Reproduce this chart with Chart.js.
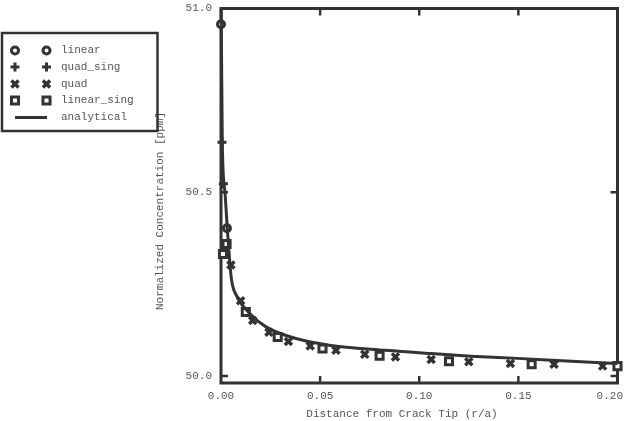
<!DOCTYPE html>
<html><head><meta charset="utf-8">
<script src="https://cdn.jsdelivr.net/npm/chart.js@4/dist/chart.umd.min.js"></script>
<style>html,body{margin:0;padding:0;background:#fff;}#wrap{width:626px;height:421px;}</style>
</head><body><div id="wrap"><canvas id="c" width="626" height="421"></canvas></div>
<script>
// ---- data ----
const xTicks = [0.00, 0.05, 0.10, 0.15, 0.20];
const yTicks = [50.0, 50.5, 51.0];
const xTitle = 'Distance from Crack Tip (r/a)';
const yTitle = 'Normalized Concentration [ppm]';
const seriesNames = ['linear', 'quad_sing', 'quad', 'linear_sing', 'analytical'];

const linearR = [0.0, 0.003];
const linearC = [50.957, 50.402];

const quadSingR = [0.0005, 0.0012];
const quadSingC = [50.636, 50.523];

const quadR = [0.005, 0.0099, 0.016, 0.0242, 0.034, 0.045, 0.058, 0.0725, 0.088, 0.106, 0.125, 0.146, 0.168, 0.1925];
const quadC = [50.302, 50.205, 50.151, 50.119, 50.094, 50.082, 50.070, 50.059, 50.052, 50.045, 50.039, 50.034, 50.032, 50.027];

const linearSingR = [0.001, 0.0028, 0.0125, 0.0286, 0.0512, 0.080, 0.115, 0.1567, 0.200];
const linearSingC = [50.332, 50.359, 50.174, 50.106, 50.075, 50.055, 50.040, 50.032, 50.027];

const analyticalR = [0.0001, 0.00065, 0.002, 0.00315, 0.0045, 0.00535, 0.0079, 0.0145, 0.0229, 0.0379, 0.0545, 0.0829, 0.106, 0.126, 0.1495, 0.1745, 0.200];
const analyticalC = [51.0, 50.636, 50.50, 50.404, 50.305, 50.26, 50.218, 50.17, 50.133, 50.102, 50.084, 50.070, 50.061, 50.054, 50.048, 50.041, 50.034];

// ---- build ----
const pts = (rs, cs) => rs.map((r, i) => ({x: r, y: cs[i]}));
const INK = '#333333';
const TXT = '#555555';
const FONT = 'Liberation Mono, DejaVu Sans Mono, monospace';

const markerStyles = [
  {pointStyle: 'circle', radius: 3.5, borderWidth: 3},
  {pointStyle: 'cross', radius: 4.5, borderWidth: 3},
  {pointStyle: 'crossRot', radius: 5, borderWidth: 3.5},
  {pointStyle: 'rect', radius: 5, borderWidth: 3}
];
const seriesData = [pts(linearR, linearC), pts(quadSingR, quadSingC), pts(quadR, quadC), pts(linearSingR, linearSingC)];

const datasets = seriesData.map((d, i) => ({
  label: seriesNames[i],
  data: d,
  showLine: false,
  pointStyle: markerStyles[i].pointStyle,
  pointRadius: markerStyles[i].radius,
  pointBorderWidth: markerStyles[i].borderWidth,
  pointBackgroundColor: '#ffffff',
  pointBorderColor: INK,
  clip: false,
  order: 1 + i
}));
datasets.push({
  label: seriesNames[4],
  data: pts(analyticalR, analyticalC),
  showLine: true,
  pointRadius: 0,
  borderColor: INK,
  borderWidth: 3,
  cubicInterpolationMode: 'monotone',
  clip: false,
  order: 0
});

const framePlugin = {
  id: 'frame',
  beforeDatasetsDraw(chart) {
    const {ctx, chartArea: a, scales: {x, y}} = chart;
    ctx.save();
    ctx.strokeStyle = INK;
    ctx.lineWidth = 3;
    ctx.strokeRect(a.left, a.top, a.right - a.left, a.bottom - a.top);
    ctx.lineWidth = 2.5;
    const tl = 7;
    ctx.beginPath();
    xTicks.forEach(v => {
      const px = x.getPixelForValue(v);
      if (Math.abs(px - a.left) < 2 || Math.abs(px - a.right) < 2) return;
      ctx.moveTo(px, a.bottom); ctx.lineTo(px, a.bottom - tl);
      ctx.moveTo(px, a.top); ctx.lineTo(px, a.top + tl);
    });
    yTicks.forEach(v => {
      const py = y.getPixelForValue(v);
      if (Math.abs(py - a.top) < 2 || Math.abs(py - a.bottom) < 2) return;
      ctx.moveTo(a.left, py); ctx.lineTo(a.left + tl, py);
      ctx.moveTo(a.right, py); ctx.lineTo(a.right - tl, py);
    });
    ctx.stroke();
    // x tick labels (last one kept inside the canvas, as in the reference)
    ctx.fillStyle = TXT;
    ctx.font = '11px ' + FONT;
    ctx.textBaseline = 'middle';
    xTicks.forEach((v, i) => {
      const px = x.getPixelForValue(v);
      const label = v.toFixed(2);
      if (i === xTicks.length - 1) { ctx.textAlign = 'right'; ctx.fillText(label, chart.width - 3, 396); }
      else { ctx.textAlign = 'center'; ctx.fillText(label, px, 396); }
    });
    ctx.restore();
  },
  afterDraw(chart) {
    const {ctx} = chart;
    ctx.save();
    ctx.fillStyle = TXT;
    ctx.font = '11px ' + FONT;
    ctx.textAlign = 'center';
    ctx.textBaseline = 'middle';
    ctx.fillText(xTitle, 402, 414);
    ctx.save();
    ctx.translate(160, 211);
    ctx.rotate(-Math.PI / 2);
    ctx.fillText(yTitle, 0, 0);
    ctx.restore();

    // legend box
    ctx.strokeStyle = INK;
    ctx.lineWidth = 2.5;
    ctx.strokeRect(2, 33, 155.5, 98);
    const rows = [50.5, 67, 84, 100.5, 117.5];
    ctx.textAlign = 'left';
    for (let i = 0; i < 5; i++) {
      const ry = rows[i];
      ctx.fillStyle = TXT;
      ctx.fillText(seriesNames[i], 61, ry);
      if (i < 4) {
        const m = markerStyles[i];
        ctx.fillStyle = '#ffffff';
        ctx.strokeStyle = INK;
        ctx.lineWidth = m.borderWidth;
        [15, 46.5].forEach(mx => {
          Chart.helpers.drawPoint(ctx, {pointStyle: m.pointStyle, radius: m.radius, borderWidth: m.borderWidth, rotation: 0}, mx, ry);
        });
      } else {
        ctx.strokeStyle = INK;
        ctx.lineWidth = 3;
        ctx.beginPath();
        ctx.moveTo(15, ry); ctx.lineTo(47, ry);
        ctx.stroke();
      }
    }
    ctx.restore();
  }
};

new Chart(document.getElementById('c'), {
  type: 'scatter',
  data: {datasets},
  options: {
    responsive: false,
    animation: false,
    devicePixelRatio: 1,
    layout: {padding: {top: 2, right: 2, left: 0, bottom: 0}},
    plugins: {legend: {display: false}, tooltip: {enabled: false}},
    scales: {
      x: {
        type: 'linear', min: 0, max: 0.2,
        afterBuildTicks: s => { s.ticks = xTicks.map(v => ({value: v})); },
        afterFit: s => { s.height = 38; s.paddingLeft = 0; s.paddingRight = 0; s.paddingTop = 0; s.paddingBottom = 0; },
        grid: {display: false, drawTicks: false},
        border: {display: false},
        ticks: {display: false}
      },
      y: {
        type: 'linear', min: 49.981, max: 51.0,
        afterBuildTicks: s => { s.ticks = yTicks.map(v => ({value: v})); },
        afterFit: s => { s.width = 221; s.paddingLeft = 0; s.paddingRight = 0; s.paddingTop = 0; s.paddingBottom = 0; },
        grid: {display: false, drawTicks: false},
        border: {display: false},
        ticks: {color: TXT, font: {family: FONT, size: 11}, padding: 9, autoSkip: false,
          callback: v => Number(v).toFixed(1)}
      }
    }
  },
  plugins: [framePlugin]
});
</script>
</body></html>
